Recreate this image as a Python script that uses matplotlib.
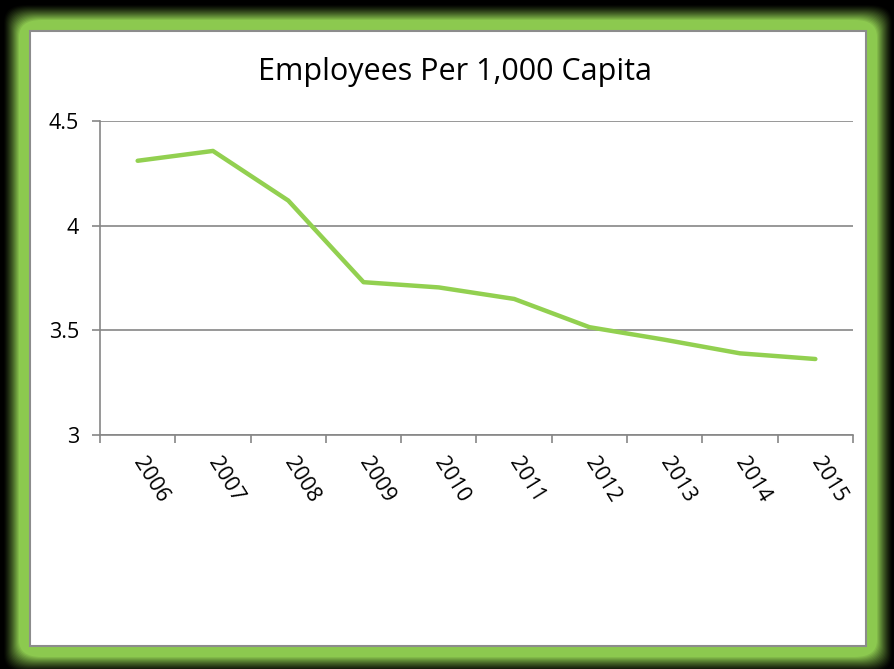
import matplotlib.pyplot as plt
from matplotlib.patches import FancyBboxPatch, Rectangle

years = ["2006", "2007", "2008", "2009", "2010", "2011", "2012", "2013", "2014", "2015"]
values = [4.31, 4.357, 4.12, 3.73, 3.705, 3.65, 3.515, 3.455, 3.39, 3.363]
yticks = [3, 3.5, 4, 4.5]
ytick_labels = ["3", "3.5", "4", "4.5"]

W, H = 895, 669
fig = plt.figure(figsize=(W / 100, H / 100), dpi=100, facecolor="black")

# green glow frame, fading out to black
green = (0.55, 0.79, 0.31)
steps = 16
for i in range(steps):
    pad = 26 - i * 1.0
    a = ((i + 1) / steps) ** 1.3
    col = (green[0] * a, green[1] * a, green[2] * a)
    x0, y0 = 30 - pad, 31 - pad
    x1, y1 = 866 + pad, 646 + pad
    fig.patches.append(FancyBboxPatch((x0 / W, 1 - y1 / H), (x1 - x0) / W, (y1 - y0) / H,
                                      boxstyle="round,pad=0,rounding_size=0.025",
                                      transform=fig.transFigure, facecolor=col,
                                      edgecolor="none", zorder=0))
# white panel
fig.patches.append(Rectangle((30 / W, 1 - 646 / H), 836 / W, 615 / H,
                             transform=fig.transFigure, facecolor="white",
                             edgecolor="#8c8c8c", linewidth=1.5, zorder=1))

ax = fig.add_axes([100 / W, 1 - 435 / H, 753 / W, 314 / H])
ax.set_facecolor("none")
ax.set_zorder(2)

x = list(range(len(years)))
ax.plot(x, values, color="#92d050", linewidth=3.2, solid_capstyle="round",
        solid_joinstyle="round", zorder=3)

ax.set_xlim(-0.5, len(years) - 0.5)
ax.set_ylim(3, 4.5)
ax.set_yticks(yticks)
ax.set_yticklabels(ytick_labels, fontsize=15.5, family="Open Sans")
ax.grid(axis="y", color="#868686", linewidth=1.2)
ax.set_axisbelow(True)

ax.set_xticks(x)
ax.set_xticklabels(years, fontsize=15.5, family="Open Sans", rotation=-58,
                   ha="left", va="center", rotation_mode="anchor")
ax.tick_params(axis="x", which="major", length=0, pad=17)
ax.set_xticks([i - 0.5 for i in range(len(years) + 1)], minor=True)
ax.tick_params(axis="x", which="minor", length=6, color="#868686", width=1.2)
ax.tick_params(axis="y", length=6, color="#868686", width=1.2, pad=9)

for s in ["top", "right"]:
    ax.spines[s].set_visible(False)
for s in ["left", "bottom"]:
    ax.spines[s].set_color("#868686")
    ax.spines[s].set_linewidth(1.2)

fig.text(455 / W, 1 - 72 / H, "Employees Per 1,000 Capita", fontsize=22,
         family="Open Sans", ha="center", va="center", zorder=5)

fig.savefig("out.png", dpi=100, facecolor="black")
